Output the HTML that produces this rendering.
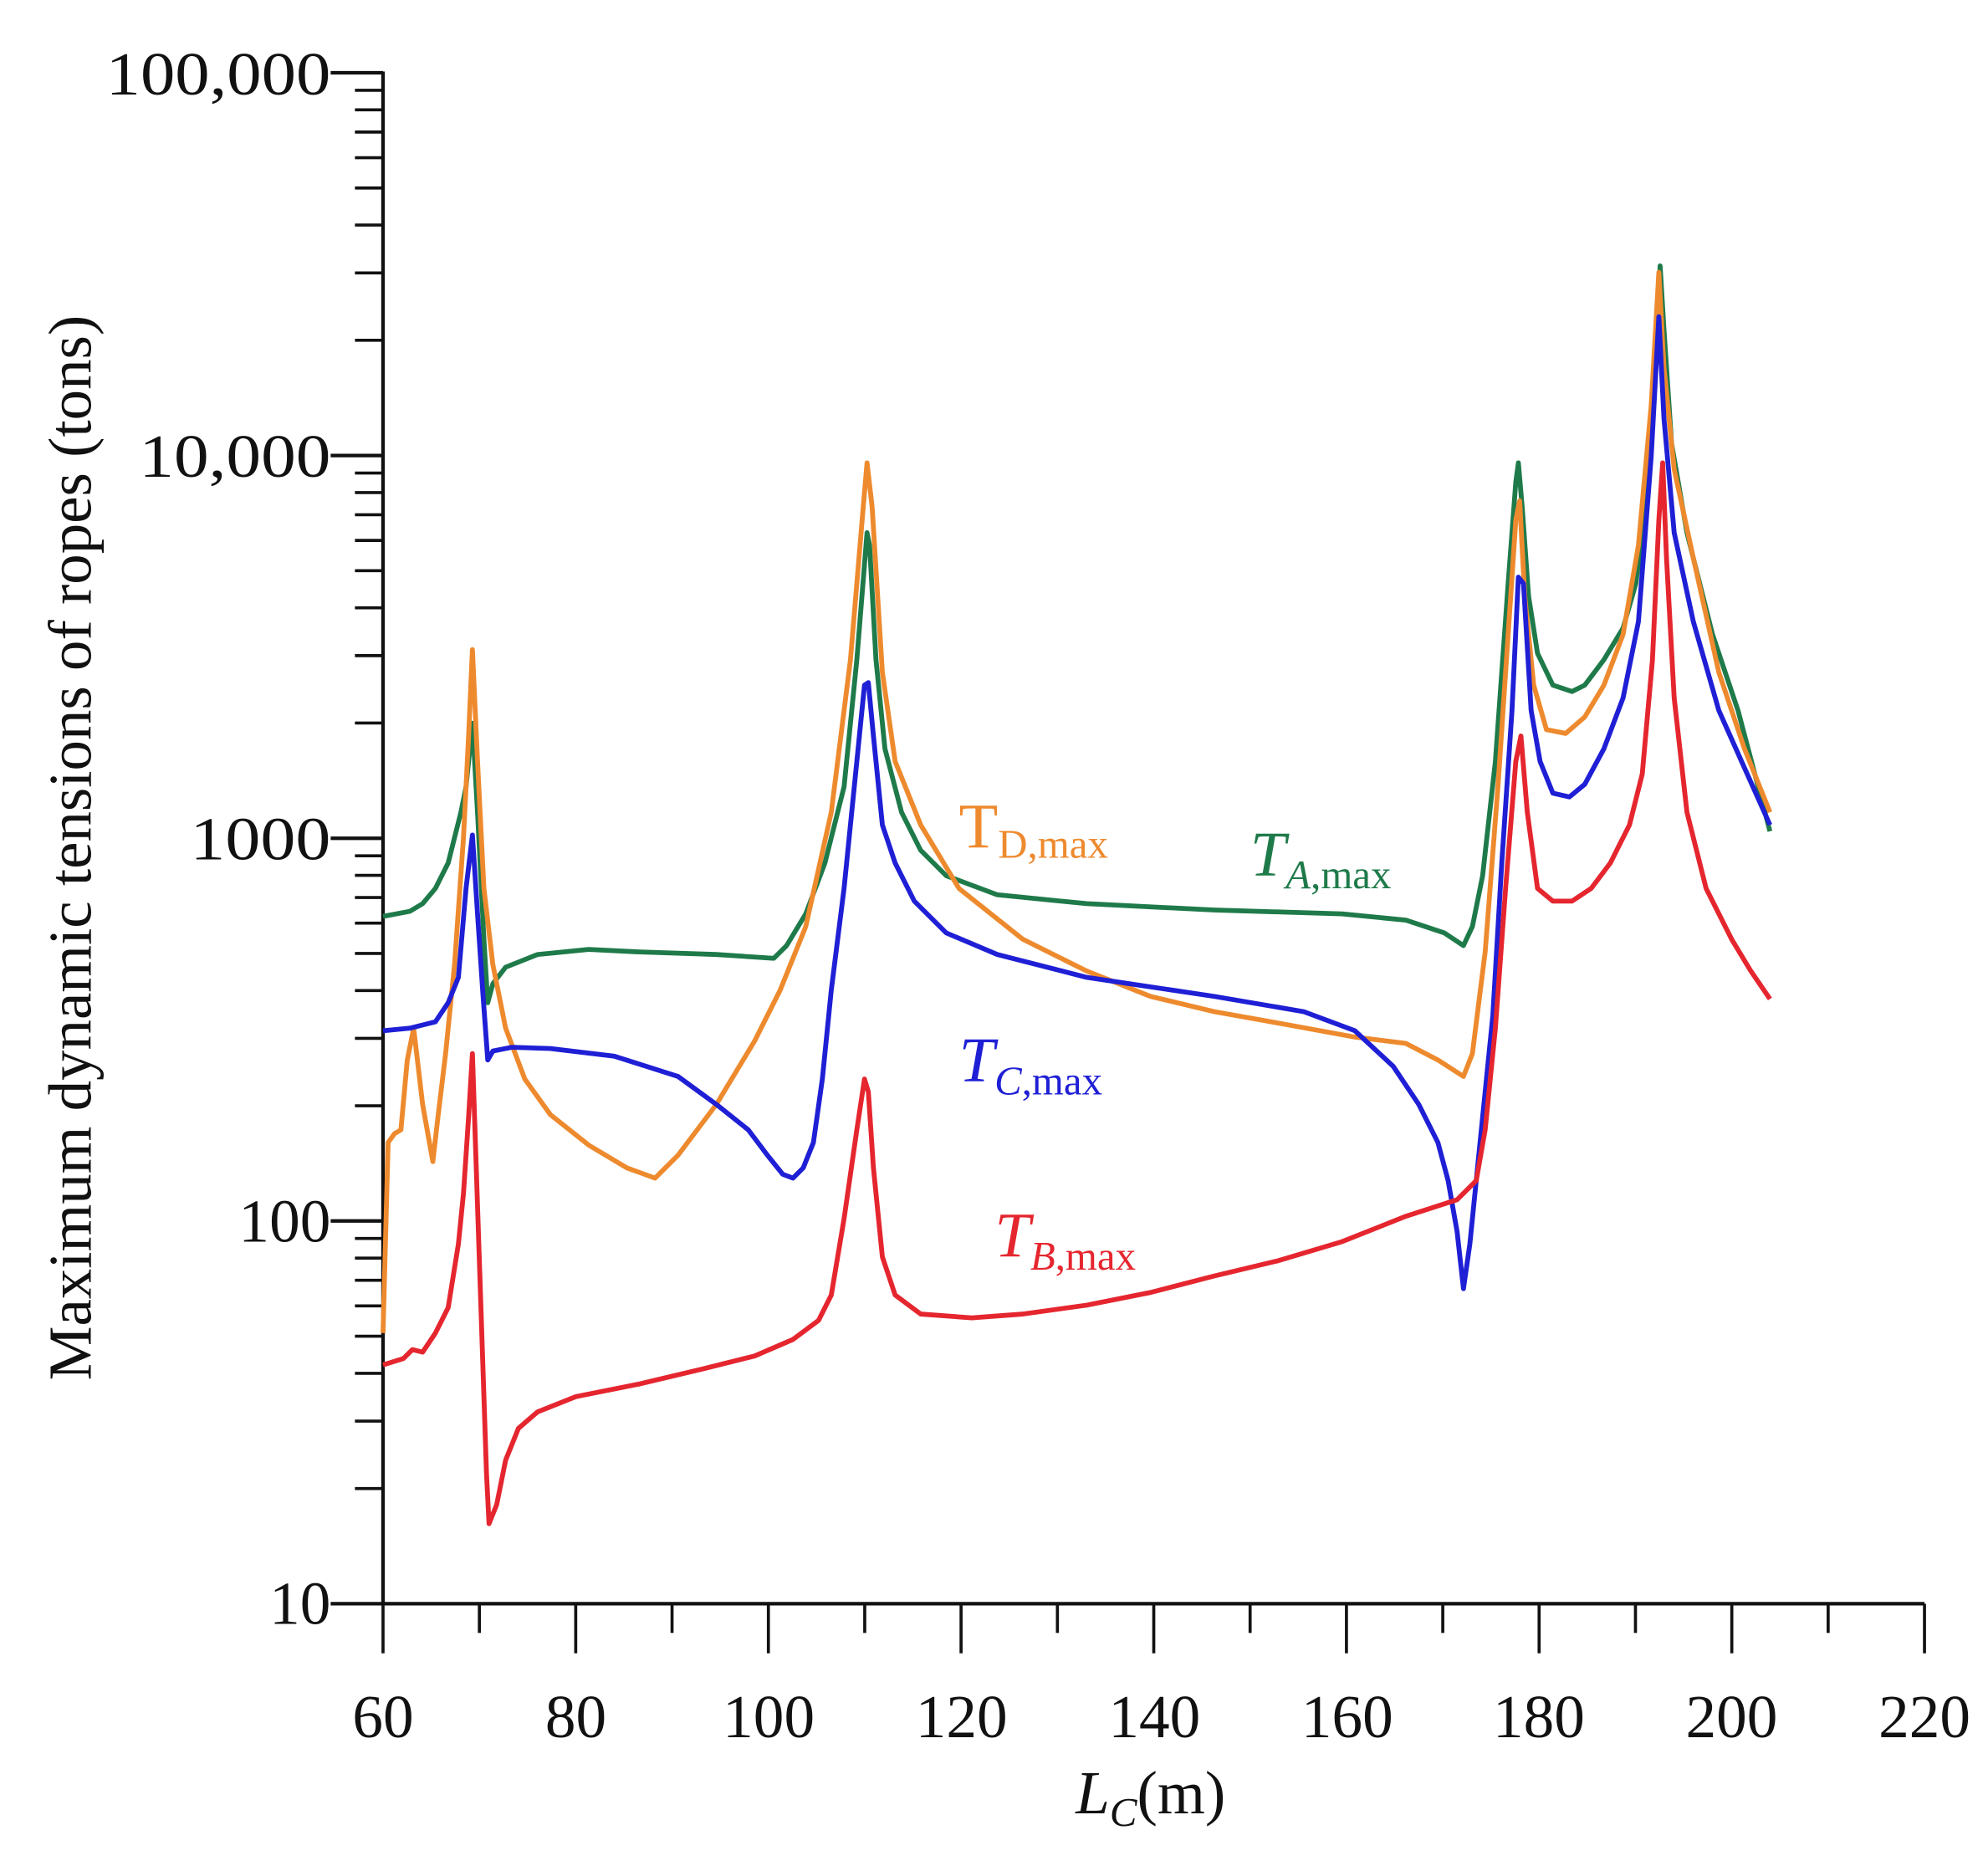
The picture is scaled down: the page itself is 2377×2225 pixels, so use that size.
<!DOCTYPE html>
<html><head><meta charset="utf-8"><style>
html,body{margin:0;padding:0;background:#fff;}
svg{display:block;}
text{font-family:"Liberation Serif",serif;}
</style></head><body>
<svg width="2377" height="2225" viewBox="0 0 2377 2225" xmlns="http://www.w3.org/2000/svg">
<rect width="2377" height="2225" fill="#fff"/>
<g transform="translate(1.4,-1.1) scale(1.527,1.519)">
<g stroke="#111" stroke-width="2.8" fill="none">
<line x1="299" y1="57" x2="299" y2="1264"/>
<line x1="298" y1="1263" x2="1506" y2="1263"/>
<line x1="258" y1="58" x2="299" y2="58"/>
<line x1="258" y1="359.25" x2="299" y2="359.25"/>
<line x1="258" y1="660.5" x2="299" y2="660.5"/>
<line x1="258" y1="961.75" x2="299" y2="961.75"/>
<line x1="258" y1="1263" x2="299" y2="1263"/>
</g>
<g stroke="#111" stroke-width="2.4" id="minors"></g>
<g stroke="#111" stroke-width="2.4" id="xt"></g>
<g font-size="48" fill="#111" text-anchor="end">
<text x="258" y="75" textLength="176" lengthAdjust="spacingAndGlyphs">100,000</text>
<text x="258" y="376" textLength="150" lengthAdjust="spacingAndGlyphs">10,000</text>
<text x="258" y="677" textLength="110" lengthAdjust="spacingAndGlyphs">1000</text>
<text x="258" y="978">100</text>
<text x="258" y="1279">10</text>
</g>
<g font-size="48" fill="#111" text-anchor="middle">
<text x="299" y="1368">60</text><text x="450" y="1368">80</text><text x="601" y="1368">100</text>
<text x="752" y="1368">120</text><text x="903" y="1368">140</text><text x="1054" y="1368">160</text>
<text x="1204" y="1368">180</text><text x="1355" y="1368">200</text><text x="1506" y="1368">220</text>
<text x="900" y="1428"><tspan font-style="italic">L</tspan><tspan font-style="italic" font-size="32" dy="10">C</tspan><tspan dy="-10">(m)</tspan></text>
</g>
<text transform="translate(70,668) rotate(-90)" font-size="48" fill="#111" text-anchor="middle">Maximum dynamic tensions of ropes (tons)</text>
<g fill="none" stroke-width="3.8" stroke-linejoin="round">
<polyline stroke="#1f7a4a" points="299,722 320,718 330,712 340,700 350,680 360,640 364,620 369,570 373,640 378,740 381,790 385,775 395,762 420,752 460,748 500,750 560,752 605,755 615,745 630,720 645,680 660,620 670,520 678,420 680,430 685,520 692,590 705,640 720,670 740,690 780,705 850,712 950,717 1050,720 1100,725 1130,735 1145,745 1152,730 1160,690 1170,600 1180,460 1186,380 1188,365 1191,400 1196,470 1203,515 1215,540 1230,545 1240,540 1255,520 1270,495 1280,460 1290,380 1296,270 1299,210 1302,260 1308,350 1320,420 1340,500 1360,560 1385,655"/>
<polyline stroke="#ee8a2e" points="299,1050 303,900 308,893 313,890 318,835 323,810 330,870 338,915 342,880 348,830 355,760 362,660 366,580 369,512 373,600 378,700 385,760 395,810 410,850 430,878 460,902 490,920 512,928 530,910 560,870 590,820 610,780 630,730 650,640 665,520 675,400 678,365 682,400 690,530 700,600 720,650 750,700 800,740 850,765 900,785 950,797 1000,806 1060,817 1100,822 1125,835 1145,848 1152,830 1162,750 1172,620 1180,500 1186,410 1189,395 1193,470 1200,540 1210,575 1225,578 1240,565 1255,540 1270,500 1282,430 1292,320 1298,215 1302,290 1310,370 1325,440 1345,530 1365,590 1385,640"/>
<polyline stroke="#1f1fd6" points="299,812 320,810 340,805 350,790 358,770 364,700 369,658 373,720 377,780 381,835 385,828 400,825 430,826 480,832 530,848 560,870 585,890 600,910 612,925 620,928 628,920 636,900 643,850 650,780 660,700 670,600 676,540 679,538 683,580 690,650 700,680 715,710 740,735 780,752 850,770 950,785 1020,797 1060,812 1090,840 1110,870 1125,900 1133,930 1140,970 1145,1015 1150,980 1158,900 1168,800 1175,680 1183,560 1188,455 1192,460 1198,560 1205,600 1215,625 1228,628 1240,618 1255,590 1270,550 1282,490 1292,360 1298,250 1302,330 1310,420 1325,490 1345,560 1365,605 1385,650"/>
<polyline stroke="#e5262f" points="299,1075 315,1070 322,1063 330,1065 340,1050 350,1030 358,980 362,940 366,880 369,830 372,920 376,1040 380,1160 382,1200 388,1185 395,1150 405,1125 420,1112 450,1100 500,1090 550,1078 590,1068 620,1055 640,1040 650,1020 660,960 670,890 676,850 679,860 683,920 690,990 700,1020 720,1035 760,1038 800,1035 850,1028 900,1018 950,1005 1000,993 1050,978 1100,958 1140,945 1155,930 1162,890 1170,810 1178,700 1186,600 1190,580 1195,640 1203,700 1215,710 1230,710 1245,700 1260,680 1275,650 1285,610 1293,520 1298,410 1301,365 1304,440 1310,550 1320,640 1335,700 1355,740 1370,765 1385,787"/>
</g>
<text x="750" y="668" font-size="50" fill="#ee8a2e">T<tspan font-size="32" dy="8">D,max</tspan></text>
<text x="978" y="690" font-size="50" fill="#1f7a4a"><tspan font-style="italic">T</tspan><tspan font-size="32" dy="10"><tspan font-style="italic">A</tspan>,max</tspan></text>
<text x="750" y="852" font-size="50" fill="#1f1fd6"><tspan font-style="italic">T</tspan><tspan font-size="32" dy="10"><tspan font-style="italic">C</tspan>,max</tspan></text>
<text x="778" y="990" font-size="50" fill="#e5262f"><tspan font-style="italic">T</tspan><tspan font-size="32" dy="10"><tspan font-style="italic">B</tspan>,max</tspan></text>
</g>
<script>
(function(){
var ns="http://www.w3.org/2000/svg";
var m=document.getElementById("minors");
for(var d=0;d<4;d++){for(var k=2;k<=9;k++){
var y=1263-301.25*(d+Math.log10(k));
var l=document.createElementNS(ns,"line");
l.setAttribute("x1",277);l.setAttribute("x2",299);l.setAttribute("y1",y);l.setAttribute("y2",y);m.appendChild(l);}}
var xt=document.getElementById("xt");
for(var v=60;v<=220;v+=10){
var x=299+(v-60)*(1207/160);
var l=document.createElementNS(ns,"line");
l.setAttribute("x1",x);l.setAttribute("x2",x);l.setAttribute("y1",1263);l.setAttribute("y2",(v%20==0)?1302:1286);xt.appendChild(l);}
})();
</script>
</svg>
</body></html>
